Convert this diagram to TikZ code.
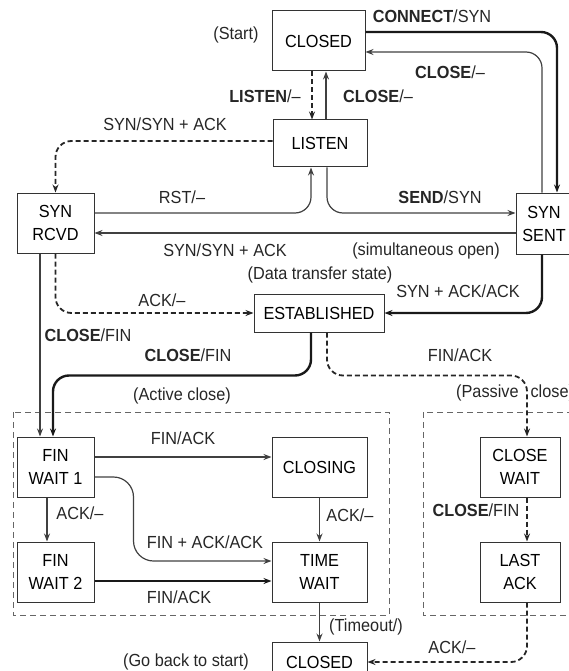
\documentclass[tikz,border=0pt]{standalone}
\usepackage{fontspec}
\setsansfont{Liberation Sans}[FakeStretch=0.93]
\usepackage{tikz}
\usetikzlibrary{arrows.meta, calc}

\tikzset{
  stbox/.style={draw=black!80, line width=1pt, fill=white, align=center, inner sep=2pt},
  trans/.style={->, line width=1.2pt, black!75},
  transbold/.style={->, line width=2.4pt, black!90},
  transdash/.style={->, line width=1.8pt, black!85, dash pattern=on 5pt off 3pt},
  group/.style={draw=black!60, line width=0.9pt, dash pattern=on 6pt off 4pt},
  lbl/.style={inner sep=1pt, text=black!85},
}

\begin{document}
\begin{tikzpicture}[x=1pt, y=-1pt, font=\sffamily\fontsize{17.5}{23}\selectfont,
    >={Stealth[length=8pt,width=6pt]}]
    \useasboundingbox (0,0) rectangle (568,671);

    % Dashed groups
    \draw[group] (13,412) rectangle (389,615);
    \draw[group] (423,412) rectangle (580,615);

    % States
    \node[stbox, minimum width=93pt, minimum height=60pt] (closedA) at (318.5,41) {CLOSED};
    \node[stbox, minimum width=94pt, minimum height=47pt] (listen) at (320,143.5) {LISTEN};
    \node[stbox, minimum width=77pt, minimum height=60pt] (synrcvd) at (55.5,223) {SYN\\RCVD};
    \node[stbox, minimum width=56pt, minimum height=61pt] (synsent) at (544,223.5) {SYN\\SENT};
    \node[stbox, minimum width=130pt, minimum height=38pt] (estab) at (319,313) {ESTABLISHED};
    \node[stbox, minimum width=77pt, minimum height=60pt] (finwaitA) at (55.5,467) {FIN\\WAIT 1};
    \node[stbox, minimum width=95pt, minimum height=60pt] (closing) at (319.5,467) {CLOSING};
    \node[stbox, minimum width=95pt, minimum height=60pt] (timewait) at (319.5,572) {TIME\\WAIT};
    \node[stbox, minimum width=77pt, minimum height=60pt] (finwaitB) at (55.5,572) {FIN\\WAIT 2};
    \node[stbox, minimum width=80pt, minimum height=60pt] (closewait) at (520,467) {CLOSE\\WAIT};
    \node[stbox, minimum width=80pt, minimum height=60pt] (lastack) at (520,572) {LAST\\ACK};
    \node[stbox, minimum width=95pt, minimum height=40pt] (closedB) at (319.5,662) {CLOSED};

    % Opening
    \draw[transbold, rounded corners=16pt] ([yshift=9pt]closedA.east) -| ([xshift=13pt]synsent.north);
    \draw[trans, rounded corners=16pt] ([xshift=-2pt]synsent.north) |- ([yshift=-11pt]closedA.east);
    \draw[transdash] ([xshift=-6.5pt]closedA.south) -- ([xshift=-6.5pt]closedA.south |- listen.north);
    \draw[trans] ([xshift=6pt]listen.north) -- ([xshift=6pt]listen.north |- closedA.south);
    \draw[transdash, rounded corners=16pt] ([yshift=2.5pt]listen.west) -| (synrcvd.north);
    \draw[trans, rounded corners=16pt] ([yshift=10pt]synrcvd.east) -| ([xshift=-9pt]listen.south);
    \draw[trans, rounded corners=16pt] ([xshift=7pt]listen.south) |- ([yshift=10.5pt]synsent.west);
    \draw[trans] ([yshift=-9.5pt]synsent.west) -- ([yshift=-9.5pt]synsent.west -| synrcvd.east);
    \draw[transbold, rounded corners=16pt] ([xshift=-2pt]synsent.south) |- (estab.east);
    \draw[transdash, rounded corners=16pt] (synrcvd.south) |- (estab.west);

    % Closing
    \draw[trans] ([xshift=-15.5pt]synrcvd.south) -- ([xshift=-15.5pt]synrcvd.south |- finwaitA.north);
    \draw[transbold, rounded corners=16pt] ([xshift=-8pt]estab.south) -- ++(0,43) -| ([xshift=-2.5pt]finwaitA.north);
    \draw[transdash, rounded corners=16pt] ([xshift=8pt]estab.south) -- ++(0,43) -| ([xshift=7pt]closewait.north);
    \draw[trans] ([yshift=10pt]finwaitA.east) -- ([yshift=10pt]finwaitA.east -| closing.west);
    \draw[trans, rounded corners=20pt] ([yshift=-10pt]finwaitA.east) -- ++(39,0) |- ([yshift=11pt]timewait.west);
    \draw[transbold] ([yshift=-9pt]finwaitB.east) -- ([yshift=-9pt]finwaitB.east -| timewait.west);
    \draw[trans] ([xshift=-8.5pt]finwaitA.south) -- ([xshift=-8.5pt]finwaitA.south |- finwaitB.north);
    \draw[trans] (closing.south) -- (timewait.north);
    \draw[trans] (timewait.south) -- (closedB.north);
    \draw[transdash] ([xshift=7pt]closewait.south) -- ([xshift=7pt]closewait.south |- lastack.north);
    \draw[transdash, rounded corners=16pt] ([xshift=7pt]lastack.south) |- (closedB.east);

    % Labels
    \node[lbl] (lStart) at (236,35) {(Start)};
    \node[lbl] (lConnect) at (432,16) {\textbf{CONNECT}/SYN};
    \node[lbl] (lCloseA) at (450,72) {\textbf{CLOSE}/--};
    \node[lbl] (lListen) at (265,96) {\textbf{LISTEN}/--};
    \node[lbl] (lCloseB) at (378,96) {\textbf{CLOSE}/--};
    \node[lbl] (lSynA) at (165,124) {SYN/SYN + ACK};
    \node[lbl] (lRst) at (182,197) {RST/--};
    \node[lbl] (lSynB) at (225,250) {SYN/SYN + ACK};
    \node[lbl] (lData) at (320,275) {(Data transfer state)};
    \node[lbl] (lSend) at (440,197) {\textbf{SEND}/SYN};
    \node[lbl] (lSimul) at (426,251) {(simultaneous open)};
    \node[lbl] (lSynAck) at (458,291) {SYN + ACK/ACK};
    \node[lbl] (lAckA) at (162,300) {ACK/--};
    \node[lbl] (lCloseC) at (88,335) {\textbf{CLOSE}/FIN};
    \node[lbl] (lCloseD) at (188,355) {\textbf{CLOSE}/FIN};
    \node[lbl] (lActive) at (182,396) {(Active close)};
    \node[lbl] (lFinA) at (460,355) {FIN/ACK};
    \node[lbl, anchor=west] (lPassive) at (455,393) {(Passive\hspace{12pt}close)};
    \node[lbl] (lFinB) at (183,438) {FIN/ACK};
    \node[lbl] (lAckB) at (80,513) {ACK/--};
    \node[lbl] (lFinAck) at (205,542) {FIN + ACK/ACK};
    \node[lbl] (lFinC) at (179,597) {FIN/ACK};
    \node[lbl] (lAckC) at (350,515) {ACK/--};
    \node[lbl] (lCloseE) at (476,510) {\textbf{CLOSE}/FIN};
    \node[lbl] (lTimeout) at (366,627) {(Timeout/)};
    \node[lbl] (lAckD) at (452,647) {ACK/--};
    \node[lbl] (lBack) at (186,662) {(Go back to start)};
\end{tikzpicture}
\end{document}
